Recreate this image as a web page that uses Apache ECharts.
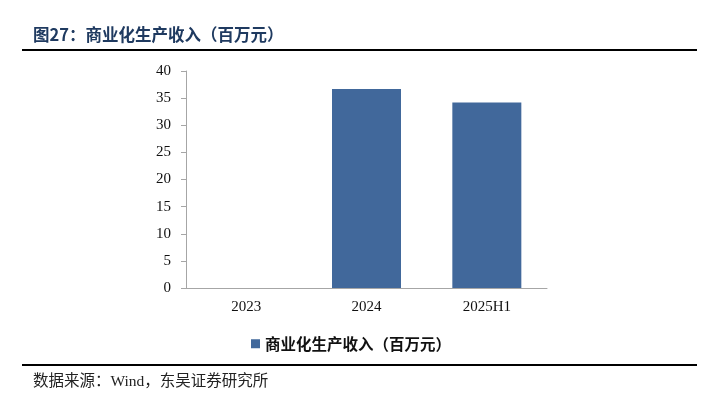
<!DOCTYPE html>
<html><head><meta charset="utf-8">
<script src="https://cdn.jsdelivr.net/npm/echarts@6/dist/echarts.min.js"></script>
<style>html,body{margin:0;padding:0;background:#fff}#c{width:701px;height:396px}</style>
</head><body><div id="c"></div>
<script>
var categories = ['2023', '2024', '2025H1'];
var revenue = [0, 36.7, 34.2];
var seriesName = '商业化生产收入（百万元）';
var yTicks = [0, 5, 10, 15, 20, 25, 30, 35, 40];

var chart = echarts.init(document.getElementById('c'), null, {renderer: 'canvas'});
var serif = '"Liberation Serif", "Noto Sans CJK SC", serif';
chart.setOption({
  animation: false,
  backgroundColor: '#fff',
  grid: {left: 186, right: 154, top: 71, bottom: 108},
  legend: {
    data: [seriesName], left: 246, top: 331, icon: 'rect', itemWidth: 9, itemHeight: 9, itemGap: 5,
    textStyle: {fontFamily: '"Noto Sans CJK SC", sans-serif', fontWeight: 'bold', fontSize: 15.5, color: '#111'}
  },
  xAxis: {
    type: 'category', data: categories,
    axisLine: {lineStyle: {color: '#a6a6a6', width: 1}},
    axisTick: {show: false},
    axisLabel: {fontFamily: serif, fontSize: 15, color: '#111', margin: 12}
  },
  yAxis: {
    type: 'value', min: yTicks[0], max: yTicks[yTicks.length - 1], interval: 5,
    axisLine: {show: true, lineStyle: {color: '#a6a6a6', width: 1}},
    axisTick: {show: true, length: 5, lineStyle: {color: '#a6a6a6'}},
    splitLine: {show: false},
    axisLabel: {fontFamily: serif, fontSize: 15, color: '#111', margin: 15}
  },
  series: [{
    name: seriesName, type: 'bar', data: revenue, barWidth: 69,
    itemStyle: {color: '#41689b'}
  }],
  graphic: [
    {type: 'text', left: 33, top: 26, style: {text: '图27：商业化生产收入（百万元）', font: 'bold 16.5px "Noto Sans CJK SC", sans-serif', fill: '#1f3a60'}},
    {type: 'rect', shape: {x: 22, y: 49, width: 675, height: 2}, style: {fill: '#000'}},
    {type: 'rect', shape: {x: 22, y: 364, width: 675, height: 2}, style: {fill: '#000'}},
    {type: 'text', left: 33, top: 374, style: {text: '数据来源：Wind，东吴证券研究所', font: '15.5px "Liberation Serif", "Noto Sans CJK SC", serif', fill: '#222'}}
  ]
});
</script></body></html>
